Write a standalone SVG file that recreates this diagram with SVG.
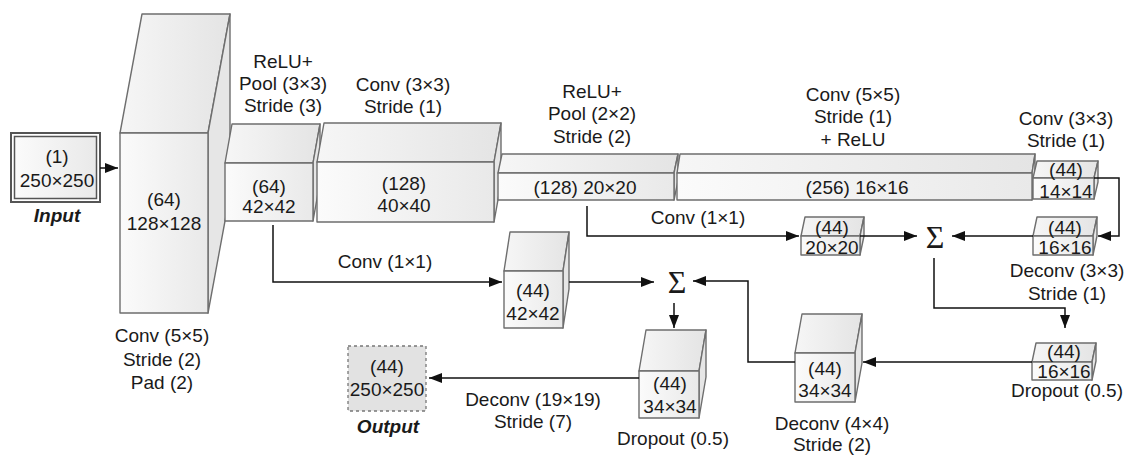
<svg xmlns="http://www.w3.org/2000/svg" width="1125" height="455" viewBox="0 0 1125 455">
<defs>
<linearGradient id="gf" x1="0" y1="0" x2="1" y2="0"><stop offset="0" stop-color="#fbfbfb"/><stop offset="1" stop-color="#e9e9e9"/></linearGradient>
<linearGradient id="gt" x1="0" y1="0" x2="1" y2="0"><stop offset="0" stop-color="#f6f6f6"/><stop offset="1" stop-color="#e4e4e4"/></linearGradient>
<marker id="ah" markerUnits="userSpaceOnUse" markerWidth="13" markerHeight="10" refX="13" refY="5" orient="auto"><path d="M0,0 L13,5 L0,10 z" fill="#111"/></marker>
</defs>
<style>
.f{fill:url(#gf);stroke:#6e6e6e;stroke-width:1.4;stroke-linejoin:round}
.t{fill:url(#gt);stroke:#6e6e6e;stroke-width:1.4;stroke-linejoin:round}
.r{fill:#e6e6e6;stroke:#6e6e6e;stroke-width:1.4;stroke-linejoin:round}
text{font-family:"Liberation Sans",Arial,sans-serif;font-size:19px;fill:#1a1a1a;text-anchor:middle}
.bi{font-weight:bold;font-style:italic}
.sig{font-family:"Liberation Serif","Times New Roman",serif;font-size:32px}
.c{fill:none;stroke:#111;stroke-width:1.5}
</style>

<g id="input">
<rect x="11" y="133" width="89" height="69" fill="none" stroke="#555" stroke-width="2"/>
<rect x="14.5" y="136.5" width="82" height="62" fill="url(#gf)" stroke="#555" stroke-width="1.5"/>
<text x="57" y="163">(1)</text>
<text x="57" y="187">250×250</text>
<text x="57" y="222" class="bi">Input</text>
</g>

<g id="b1">
<polygon class="t" points="120,133 142,14 230,14 208,133"/>
<polygon class="r" points="208,133 230,14 230,194 208,313"/>
<rect class="f" x="120" y="133" width="88" height="180"/>
<text x="164" y="206">(64)</text>
<text x="164" y="230">128×128</text>
<text x="162" y="342">Conv (5×5)</text>
<text x="162" y="366">Stride (2)</text>
<text x="162" y="389">Pad (2)</text>
</g>

<g id="b2">
<polygon class="t" points="225,163 232,124 320,124 313,163"/>
<polygon class="r" points="313,163 320,124 320,182 313,221"/>
<rect class="f" x="225" y="163" width="88" height="58"/>
<text x="269" y="193">(64)</text>
<text x="269" y="213">42×42</text>
<text x="283" y="68">ReLU+</text>
<text x="283" y="90">Pool (3×3)</text>
<text x="283" y="112">Stride (3)</text>
</g>

<g id="b3">
<polygon class="t" points="317,162 324,123 501,123 494,162"/>
<polygon class="r" points="494,162 501,123 501,183 494,222"/>
<rect class="f" x="317" y="162" width="177" height="60"/>
<text x="404" y="190">(128)</text>
<text x="404" y="212">40×40</text>
<text x="403" y="91">Conv (3×3)</text>
<text x="403" y="113">Stride (1)</text>
</g>

<g id="b4">
<polygon class="t" points="498,173 502,154 678,154 674,173"/>
<polygon class="r" points="674,173 678,154 678,181 674,200"/>
<rect class="f" x="498" y="173" width="176" height="27"/>
<text x="585" y="194">(128) 20×20</text>
<text x="592" y="98">ReLU+</text>
<text x="592" y="120">Pool (2×2)</text>
<text x="592" y="143">Stride (2)</text>
</g>

<g id="b5">
<polygon class="t" points="677,173 680,154 1035,154 1032,173"/>
<polygon class="r" points="1032,173 1035,154 1035,181 1032,200"/>
<rect class="f" x="677" y="173" width="355" height="27"/>
<text x="857" y="194">(256) 16×16</text>
<text x="853" y="101">Conv (5×5)</text>
<text x="853" y="123">Stride (1)</text>
<text x="853" y="146">+ ReLU</text>
</g>

<g id="b6">
<polygon class="t" points="1033,178 1037,161 1098,161 1094,178"/>
<polygon class="r" points="1094,178 1098,161 1098,182 1094,199"/>
<rect class="f" x="1033" y="178" width="61" height="21"/>
<text x="1066" y="176">(44)</text>
<text x="1066" y="198">14×14</text>
<text x="1066" y="125">Conv (3×3)</text>
<text x="1066" y="147">Stride (1)</text>
</g>

<g id="b7">
<polygon class="t" points="801,236 805,217 864,217 860,236"/>
<polygon class="r" points="860,236 864,217 864,236 860,255"/>
<rect class="f" x="801" y="236" width="59" height="19"/>
<text x="832" y="234">(44)</text>
<text x="832" y="254">20×20</text>
</g>

<g id="b8">
<polygon class="t" points="1033,236 1037,217 1097,217 1093,236"/>
<polygon class="r" points="1093,236 1097,217 1097,236 1093,255"/>
<rect class="f" x="1033" y="236" width="60" height="19"/>
<text x="1065" y="234">(44)</text>
<text x="1065" y="254">16×16</text>
<text x="1067" y="277">Deconv (3×3)</text>
<text x="1067" y="300">Stride (1)</text>
</g>

<g id="b12">
<polygon class="t" points="1032,362 1036,343 1096,343 1092,362"/>
<polygon class="r" points="1092,362 1096,343 1096,361 1092,380"/>
<rect class="f" x="1032" y="362" width="60" height="18"/>
<text x="1064" y="358">(44)</text>
<text x="1064" y="378">16×16</text>
<text x="1067" y="397">Dropout (0.5)</text>
</g>

<g id="b11">
<polygon class="t" points="795,353 802,314 862,314 855,353"/>
<polygon class="r" points="855,353 862,314 862,363 855,402"/>
<rect class="f" x="795" y="353" width="60" height="49"/>
<text x="825" y="375">(44)</text>
<text x="825" y="397">34×34</text>
<text x="832" y="430">Deconv (4×4)</text>
<text x="832" y="451">Stride (2)</text>
</g>

<g id="b10">
<polygon class="t" points="639,371 646,330 706,330 699,371"/>
<polygon class="r" points="699,371 706,330 706,377 699,418"/>
<rect class="f" x="639" y="371" width="60" height="47"/>
<text x="670" y="390">(44)</text>
<text x="670" y="413">34×34</text>
<text x="673" y="445">Dropout (0.5)</text>
</g>

<g id="b9">
<polygon class="t" points="504,271 510,232 569,232 563,271"/>
<polygon class="r" points="563,271 569,232 569,289 563,328"/>
<rect class="f" x="504" y="271" width="59" height="57"/>
<text x="533" y="297">(44)</text>
<text x="533" y="320">42×42</text>
</g>

<g id="output">
<rect x="348" y="346" width="78" height="65" fill="#e2e2e2" stroke="#777" stroke-width="1.3" stroke-dasharray="3,3"/>
<text x="387" y="373">(44)</text>
<text x="387" y="396">250×250</text>
<text x="388" y="433" class="bi">Output</text>
</g>

<g id="sum1"><text x="935" y="248" class="sig">Σ</text></g>
<g id="sum2"><text x="677" y="293" class="sig">Σ</text></g>

<g id="connectors">
<path class="c" d="M100,168 H118" marker-end="url(#ah)"/>
<path class="c" d="M273,225 V282 H502" marker-end="url(#ah)"/>
<path class="c" d="M587,206 V236 H799" marker-end="url(#ah)"/>
<path class="c" d="M860,236 H917" marker-end="url(#ah)"/>
<path class="c" d="M1094,178 H1119 V236 H1098" marker-end="url(#ah)"/>
<path class="c" d="M1033,236 H952" marker-end="url(#ah)"/>
<path class="c" d="M934,258 V308 H1065 V328" marker-end="url(#ah)"/>
<path class="c" d="M1032,362 H863" marker-end="url(#ah)"/>
<path class="c" d="M795,362 H748 V281 H693" marker-end="url(#ah)"/>
<path class="c" d="M569,282 H654" marker-end="url(#ah)"/>
<path class="c" d="M674,303 V328" marker-end="url(#ah)"/>
<path class="c" d="M639,378 H429" marker-end="url(#ah)"/>
<text x="385" y="268">Conv (1×1)</text>
<text x="698" y="224">Conv (1×1)</text>
<text x="533" y="406">Deconv (19×19)</text>
<text x="533" y="428">Stride (7)</text>
</g>
</svg>
